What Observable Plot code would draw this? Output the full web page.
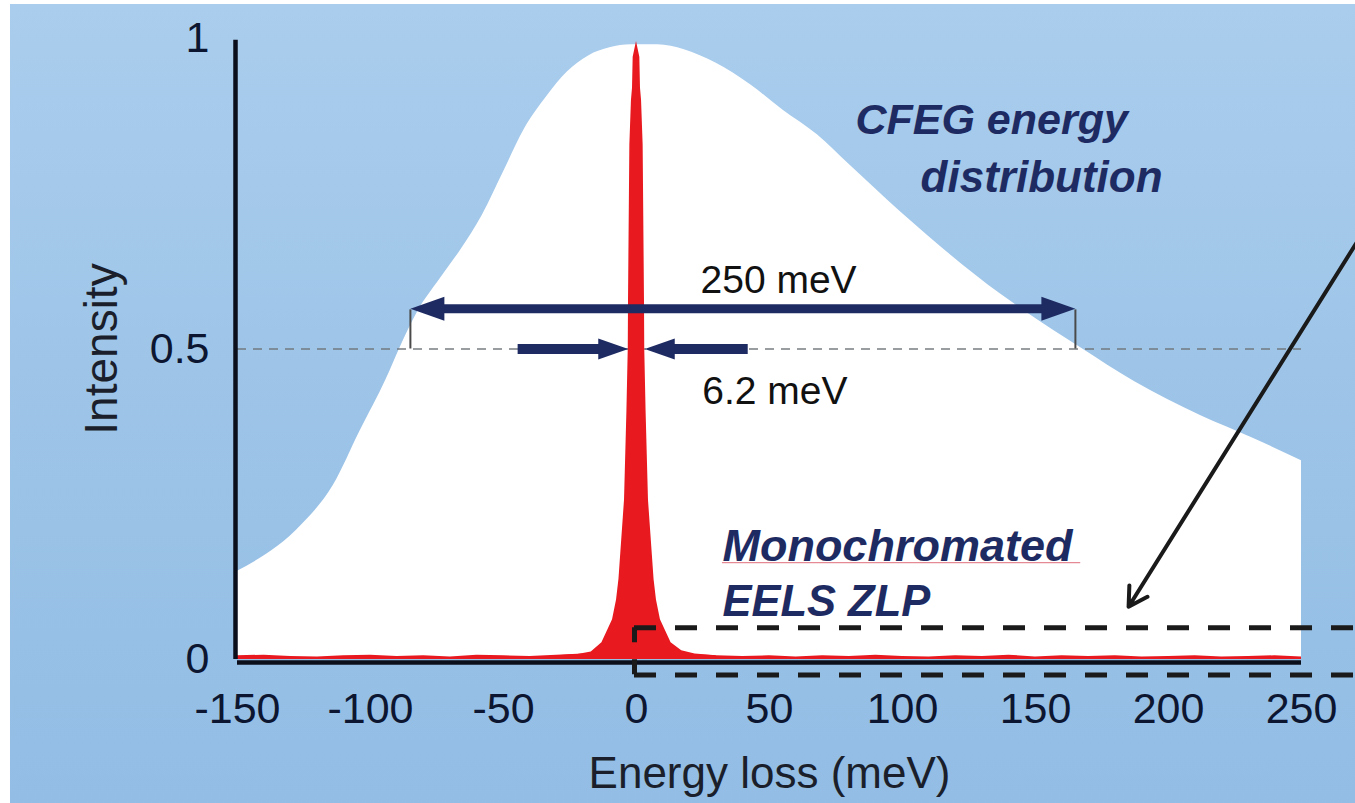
<!DOCTYPE html>
<html>
<head>
<meta charset="utf-8">
<script src="https://cdn.jsdelivr.net/npm/d3@7"></script>
<script src="https://cdn.jsdelivr.net/npm/@observablehq/plot@0.6"></script>
<style>
  html, body { margin: 0; padding: 0; background: #ffffff; }
  #chart { position: absolute; left: 10px; top: 4px; }
</style>
</head>
<body>
<div id="chart"></div>
<script>
// Cold-FEG energy distribution (normalised intensity vs energy loss, meV)
const cfegEnergy = [-150, -126, -114, -104, -94, -89, -82, -74, -66, -58, -50, -42, -34, -26, -18, -10, -2,
                    8, 18, 30, 43, 55, 68, 80, 99, 137, 147, 167, 187, 212, 232, 250];
const cfegIntensity = [0.142, 0.216, 0.280, 0.367, 0.452, 0.501, 0.562, 0.612, 0.660, 0.715, 0.785, 0.855, 0.905, 0.946, 0.972, 0.985, 0.990,
                       0.990, 0.982, 0.960, 0.925, 0.885, 0.845, 0.797, 0.722, 0.588, 0.558, 0.502, 0.448, 0.393, 0.356, 0.320];

// Monochromated EELS zero-loss peak
const zlpEnergy = [-30, -22, -17, -13, -9, -7.5, -6.6, -4.5, -3.6, -3.1, -3.0, -2.5, -1.9, -1.5, -1.25, 0,
                   1.25, 1.5, 1.9, 2.5, 3.0, 3.1, 3.6, 4.5, 6.6, 7.5, 9, 13, 17, 22, 30];
const zlpIntensity = [0.006, 0.008, 0.012, 0.027, 0.064, 0.096, 0.129, 0.257, 0.400, 0.500, 0.580, 0.828, 0.900, 0.920, 0.970, 0.995,
                      0.970, 0.920, 0.900, 0.828, 0.580, 0.500, 0.400, 0.257, 0.129, 0.096, 0.064, 0.027, 0.014, 0.009, 0.006];

// Noise floor of the ZLP spectrum
const noiseEnergy = [-150, -140, -130, -120, -110, -100, -90, -80, -70, -60, -50, -40, -30, -20, -10,
                     10, 20, 30, 40, 50, 60, 70, 80, 90, 100, 110, 120, 130, 140, 150, 160, 170, 180, 190, 200, 210, 220, 230, 240, 250];
const noiseIntensity = [0.006, 0.007, 0.005, 0.004, 0.006, 0.007, 0.005, 0.006, 0.004, 0.007, 0.006, 0.005, 0.007, 0.009, 0.012,
                        0.011, 0.008, 0.006, 0.005, 0.006, 0.004, 0.006, 0.005, 0.007, 0.005, 0.004, 0.006, 0.005, 0.007, 0.004,
                        0.006, 0.005, 0.006, 0.004, 0.005, 0.006, 0.004, 0.005, 0.006, 0.004];

// Axis ticks
const xTicks = [-150, -100, -50, 0, 50, 100, 150, 200, 250];
const yTicks = [0, 0.5, 1];

// Widths quoted on the chart (meV)
const cfegFwhm = 250;
const cfegHalfLeft = -85;
const zlpFwhm = 6.2;

const navy = "#1e2b63";
const red = "#e8191f";
const ink = "#0d1630";

const cfeg = cfegEnergy.map((e, i) => ({energy: e, intensity: cfegIntensity[i]}));
const zlp = zlpEnergy.map((e, i) => ({energy: e, intensity: zlpIntensity[i]}));
const noise = noiseEnergy.map((e, i) => ({energy: e, intensity: noiseIntensity[i]}));

// Filled arrowheads, tip at the anchor point
const headRight = (L, H) => ({draw(ctx) { ctx.moveTo(0, 0); ctx.lineTo(-L, -H / 2); ctx.lineTo(-L, H / 2); ctx.closePath(); }});
const headLeft = (L, H) => ({draw(ctx) { ctx.moveTo(0, 0); ctx.lineTo(L, -H / 2); ctx.lineTo(L, H / 2); ctx.closePath(); }});

const bigY = 0.565;
const bigL = cfegHalfLeft, bigR = cfegHalfLeft + cfegFwhm;
const smallY = 0.5;
const tipL = -zlpFwhm / 2, tipR = zlpFwhm / 2;
const tailL = -44.5, tailR = 42;

// Zoom box around the ZLP tail
const box = {x1: -0.75, x2: 276, yTop: 0.051, yBot: -0.025};

const chart = Plot.plot({
  width: 1345,
  height: 799,
  marginLeft: 227,
  marginRight: 54,
  marginTop: 34,
  marginBottom: 144,
  x: {domain: [-150, 250]},
  y: {domain: [0, 1]},
  style: {
    background: "linear-gradient(to bottom, #aacded 0%, #9ec5e8 45%, #93bde5 100%)",
    fontFamily: "'Liberation Sans', Arial, sans-serif",
    color: ink
  },
  marks: [
    Plot.areaY(cfeg, {x: "energy", y: "intensity", fill: "white", curve: "monotone-x"}),
    Plot.ruleY([0.5], {x1: -150, x2: 250, stroke: "#6f7378", strokeOpacity: 0.7, strokeWidth: 1.8, strokeDasharray: "9,7"}),
    Plot.areaY(noise, {x: "energy", y: "intensity", fill: red}),
    Plot.areaY(zlp, {x: "energy", y: "intensity", fill: red}),

    // 250 meV FWHM of the CFEG distribution
    Plot.ruleX([bigL, bigR], {y1: 0.5, y2: 0.563, stroke: "#4a4a4a", strokeWidth: 2}),
    Plot.ruleY([bigY], {x1: bigL, x2: bigR, insetLeft: 30, insetRight: 30, stroke: navy, strokeWidth: 9}),
    Plot.dot([{x: bigL, y: bigY}], {x: "x", y: "y", symbol: headLeft(34, 24), fill: navy, stroke: "none"}),
    Plot.dot([{x: bigR, y: bigY}], {x: "x", y: "y", symbol: headRight(34, 24), fill: navy, stroke: "none"}),

    // 6.2 meV FWHM of the ZLP
    Plot.ruleY([smallY], {x1: tailL, x2: tipL, insetRight: 28, stroke: navy, strokeWidth: 10}),
    Plot.ruleY([smallY], {x1: tipR, x2: tailR, insetLeft: 28, stroke: navy, strokeWidth: 10}),
    Plot.dot([{x: tipL, y: smallY}], {x: "x", y: "y", symbol: headRight(30, 21), fill: navy, stroke: "none"}),
    Plot.dot([{x: tipR, y: smallY}], {x: "x", y: "y", symbol: headLeft(30, 21), fill: navy, stroke: "none"}),

    // Axis lines
    Plot.ruleX([-150], {y1: 0, y2: 0.997, stroke: "#0b0f1c", strokeWidth: 4.5, dx: -2}),
    Plot.ruleY([0], {x1: -150, x2: 250, stroke: "#0b0f1c", strokeWidth: 4.5, dy: 3}),
    Plot.axisX({ticks: xTicks, tickSize: 0, tickPadding: 33, fontSize: 43, tickFormat: d => String(d), label: null}),
    Plot.axisY({ticks: yTicks, tickSize: 0, tickPadding: 28, fontSize: 43, tickFormat: d => String(d), label: null}),
    Plot.text(["Energy loss (meV)"], {frameAnchor: "bottom", lineAnchor: "middle", textAnchor: "middle", dy: 114, fontSize: 44, fill: "#1a1f2b"}),
    Plot.text(["Intensity"], {frameAnchor: "left", textAnchor: "middle", lineAnchor: "middle", dx: -135, rotate: -90, fontSize: 46, fill: "#1a1f2b"}),

    // Annotations
    Plot.text([{x: 53.4, y: 0.61, t: `${cfegFwhm} meV`}], {x: "x", y: "y", text: "t", fontSize: 39, fill: "#111"}),
    Plot.text([{x: 52, y: 0.431, t: `${zlpFwhm} meV`}], {x: "x", y: "y", text: "t", fontSize: 39, fill: "#111"}),
    Plot.text([{x: 82.3, y: 0.868, t: "CFEG energy"}], {x: "x", y: "y", text: "t", textAnchor: "start", fontSize: 43, fontStyle: "italic", fontWeight: "bold", fill: navy}),
    Plot.text([{x: 106.8, y: 0.775, t: "distribution"}], {x: "x", y: "y", text: "t", textAnchor: "start", fontSize: 44, fontStyle: "italic", fontWeight: "bold", fill: navy}),
    Plot.ruleY([0.156], {x1: 32.3, x2: 167, stroke: "#e58a95", strokeWidth: 1.3}),
    Plot.text([{x: 32.3, y: 0.182, t: "Monochromated"}], {x: "x", y: "y", text: "t", textAnchor: "start", fontSize: 45, fontStyle: "italic", fontWeight: "bold", fill: navy}),
    Plot.text([{x: 32.3, y: 0.092, t: "EELS ZLP"}], {x: "x", y: "y", text: "t", textAnchor: "start", fontSize: 43.5, fontStyle: "italic", fontWeight: "bold", fill: navy}),

    // Pointer to the zoomed tail region
    Plot.arrow([{x1: 272, y1: 0.68, x2: 185, y2: 0.085}], {x1: "x1", y1: "y1", x2: "x2", y2: "y2", stroke: "#1a1a1a", strokeWidth: 4, headLength: 8}),
    Plot.ruleY([box.yTop, box.yBot], {x1: box.x1, x2: box.x2, stroke: "#1a1a1a", strokeWidth: 5, strokeDasharray: "22,19"}),
    Plot.ruleX([box.x1], {y1: box.yTop, y2: box.yBot, stroke: "#1a1a1a", strokeWidth: 5, strokeDasharray: "15,17"})
  ]
});

document.getElementById("chart").appendChild(chart);
</script>
</body>
</html>
